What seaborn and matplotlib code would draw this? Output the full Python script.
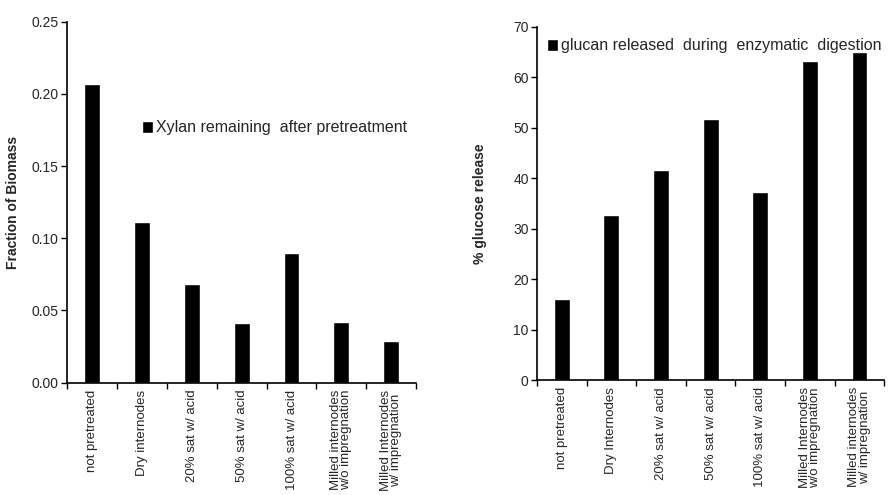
import matplotlib
matplotlib.use("Agg")
import matplotlib.pyplot as plt
import seaborn as sns
import pandas as pd

left_labels = ["not pretreated", "Dry internodes", "20% sat w/ acid", "50% sat w/ acid",
               "100% sat w/ acid", "Milled internodes\nw/o impregnation",
               "Milled Internodes\nw/ impregnation"]
xylan = [0.207, 0.111, 0.068, 0.041, 0.090, 0.042, 0.029]

right_labels = ["not pretreated", "Dry Internodes", "20% sat w/ acid", "50% sat w/ acid",
                "100% sat w/ acid", "Milled Internodes\nw/o impregnation",
                "Milled internodes\nw/ impregnation"]
glucose = [16.0, 32.8, 41.7, 51.7, 37.3, 63.3, 65.0]

sns.set_theme(style="ticks")
plt.rcParams["font.family"] = ["Liberation Sans", "DejaVu Sans"]

fig = plt.figure(figsize=(8.95, 4.95), dpi=100)
ax1 = fig.add_axes([0.075, 0.227, 0.39, 0.729])
ax2 = fig.add_axes([0.600, 0.232, 0.388, 0.714])


def draw(ax, labels, values, legend_text, ylabel, ylim, yticks, fmt, legend_loc):
    df = pd.DataFrame({"cat": labels, "val": values})
    sns.barplot(data=df, x="cat", y="val", color="black", width=0.32,
                saturation=1, ax=ax, label=legend_text)
    ax.set_xlim(-0.5, len(labels) - 0.5)
    ax.set_ylim(*ylim)
    ax.set_yticks(yticks)
    ax.set_yticklabels([fmt.format(v) for v in yticks], fontsize=10)
    ax.set_xticks(range(len(labels)))
    ax.set_xticklabels(labels, rotation=90, fontsize=9.5, linespacing=0.8)
    ax.tick_params(axis="x", which="major", length=0, pad=5)
    ax.set_xticks([i - 0.5 for i in range(len(labels) + 1)], minor=True)
    ax.tick_params(axis="x", which="minor", length=4, width=1, color="black", direction="out")
    ax.tick_params(axis="y", length=4, width=1, color="black", direction="out", pad=2)
    for s in ["top", "right"]:
        ax.spines[s].set_visible(False)
    for s in ["left", "bottom"]:
        ax.spines[s].set_color("black")
        ax.spines[s].set_linewidth(1.2)
    ax.set_xlabel("")
    ax.set_ylabel(ylabel, fontsize=10, fontweight="bold")
    leg = ax.legend(loc="upper left", bbox_to_anchor=legend_loc, frameon=False,
                    fontsize=11.5, handlelength=0.7, handleheight=0.8,
                    handletextpad=0.2, borderaxespad=0)
    return leg


draw(ax1, left_labels, xylan, "Xylan remaining  after pretreatment", "Fraction of Biomass",
     (0, 0.25), [0.0, 0.05, 0.10, 0.15, 0.20, 0.25], "{:.2f}", (0.195, 0.745))
draw(ax2, right_labels, glucose, "glucan released  during  enzymatic  digestion",
     "% glucose release", (0, 70), [0, 10, 20, 30, 40, 50, 60, 70], "{:.0f}", (0.01, 0.985))
ax1.yaxis.set_label_coords(-0.135, 0.5)
ax2.yaxis.set_label_coords(-0.145, 0.5)

fig.savefig("out.png", dpi=100)
